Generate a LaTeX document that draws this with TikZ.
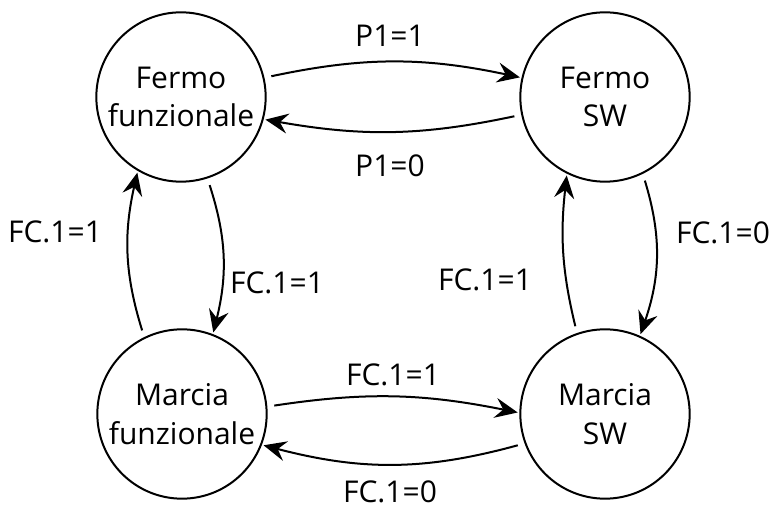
\documentclass[tikz,border=0pt]{standalone}
\usepackage{fontspec}
\setmainfont{Open Sans}
\usetikzlibrary{arrows.meta}
\tikzset{
  stato/.style={draw, circle, line width=1.5pt, minimum size=127pt, inner sep=0pt, outer sep=2pt, align=center},
  freccia/.style={-{Stealth[length=17pt,width=15pt,inset=6pt]}, line width=1.5pt, shorten <=4pt},
  cond/.style={inner sep=0pt}
}
\begin{document}
\begin{tikzpicture}[x=0.75pt,y=0.75pt,font=\fontsize{22.5}{29}\selectfont]
  \useasboundingbox (0,0) rectangle (778,510);
  % stati
  \node[stato] (fermof) at (181,413) {Fermo\\funzionale};
  \node[stato] (fermosw) at (605,413) {Fermo\\SW};
  \node[stato] (marciaf) at (182,96) {Marcia\\funzionale};
  \node[stato] (marciasw) at (605,96) {Marcia\\SW};

  % transizioni
  \draw[freccia] (fermof.13) to[bend left=12] (fermosw.167);
  \draw[freccia] (fermosw.192) to[bend left=11] (fermof.-15);
  \draw[freccia] (marciaf.116) to[bend left=15] (fermof.240);
  \draw[freccia] (fermof.288) to[bend left=16] (marciaf.69);
  \draw[freccia] (marciasw.109) to[bend left=10] (fermosw.244);
  \draw[freccia] (fermosw.296) to[bend left=18] (marciasw.66);
  \draw[freccia] (marciaf.5) to[bend left=10] (marciasw.179);
  \draw[freccia] (marciasw.200) to[bend left=15] (marciaf.-21);

  % condizioni
  \node[cond] (p1on) at (390,474) {P1=1};
  \node[cond] (p1off) at (390,344) {P1=0};
  \node[cond] (fcsx) at (55,278) {FC.1=1};
  \node[cond] (fcmsx) at (277,227) {FC.1=1};
  \node[cond] (fcmdx) at (485,230) {FC.1=1};
  \node[cond] (fcdx) at (723,277) {FC.1=0};
  \node[cond] (fcbon) at (393,135) {FC.1=1};
  \node[cond] (fcboff) at (390,18) {FC.1=0};
\end{tikzpicture}
\end{document}
